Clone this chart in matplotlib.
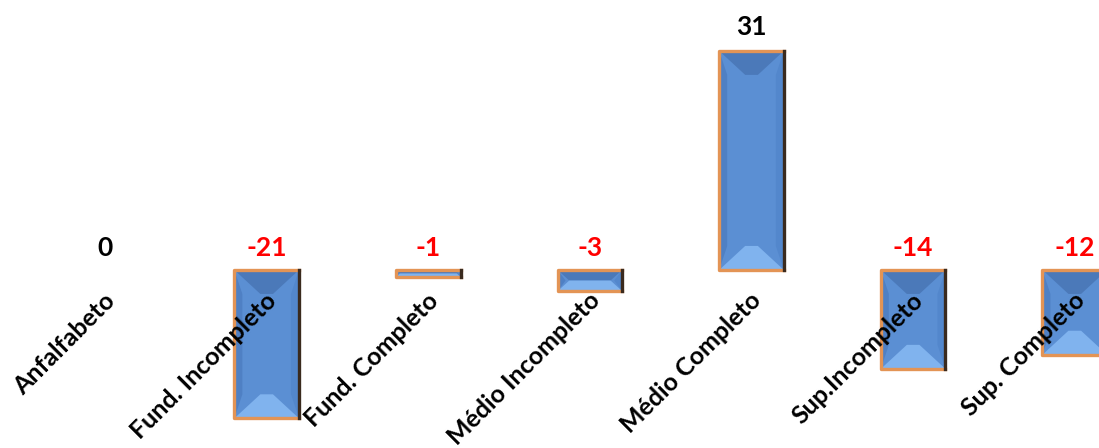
import matplotlib.pyplot as plt
from matplotlib.patches import Polygon

categories = ['Anfalfabeto', 'Fund. Incompleto', 'Fund. Completo', 'Médio Incompleto',
              'Médio Completo', 'Sup.Incompleto', 'Sup. Completo']
values = [0, -21, -1, -3, 31, -14, -12]

plt.rcParams['font.family'] = ['Lato', 'DejaVu Sans']

fig = plt.figure(figsize=(10.99, 4.48), dpi=100)
ax = fig.add_axes([0, 0, 1, 1])

positions = list(range(len(categories)))
bar_w = 0.4
bar_colors = ['none' if v == 0 else '#5B8FD3' for v in values]
bars = ax.bar(positions, values, width=bar_w, color=bar_colors, edgecolor='none', zorder=2)

ax.set_xlim(-0.65, 6.15)
ax.set_ylim(-25.2, 38.2)
ax.axis('off')

# pixel sizes in data units
px = 6.8 / 1099
py = 63.4 / 448

# bevel effect on each bar
for b, v in zip(bars, values):
    if v == 0:
        continue
    x0 = b.get_x()
    x1 = x0 + b.get_width()
    top = max(v, 0)
    bot = min(v, 0)
    dy = min(24 * py, abs(v) / 2.0)
    dx = min(26 * px, dy / py * px * 1.1)
    sx = min(8 * px, dx)
    # left / right side stripes
    ax.add_patch(Polygon([(x0, top), (x0 + sx, top - dy), (x0 + sx, bot + dy), (x0, bot)],
                         closed=True, facecolor='#4F80C4', edgecolor='none', zorder=3))
    ax.add_patch(Polygon([(x1, top), (x1 - sx, top - dy), (x1 - sx, bot + dy), (x1, bot)],
                         closed=True, facecolor='#5387CC', edgecolor='none', zorder=3))
    # top facet (darker)
    ax.add_patch(Polygon([(x0, top), (x1, top), (x1 - dx, top - dy), (x0 + dx, top - dy)],
                         closed=True, facecolor='#4B79B9', edgecolor='none', zorder=3))
    # bottom facet (lighter)
    ax.add_patch(Polygon([(x0, bot), (x1, bot), (x1 - dx, bot + dy), (x0 + dx, bot + dy)],
                         closed=True, facecolor='#80B3EE', edgecolor='none', zorder=3))
    # orange outline with dark shadow on the right
    ax.plot([x1, x0, x0, x1], [top, top, bot, bot], color='#E39455', lw=2.4, zorder=4)
    ax.plot([x1, x1], [top, bot], color='#3A2A1E', lw=2.4, zorder=4)

# value labels
for i, v in enumerate(values):
    ax.annotate(str(v), xy=(i, max(v, 0)), xytext=(0, 12 if v > 0 else 10), textcoords='offset pixels',
                ha='center', va='bottom', fontsize=19, fontweight='bold',
                color='red' if v < 0 else 'black', zorder=5)

# category labels
for i, c in enumerate(categories):
    ax.annotate(c, xy=(i, 0), xytext=(6, -27), textcoords='offset pixels',
                ha='right', va='center', rotation=45, rotation_mode='anchor',
                fontsize=18, fontweight='bold', color='black', zorder=6)

fig.savefig('out.png', dpi=100)
